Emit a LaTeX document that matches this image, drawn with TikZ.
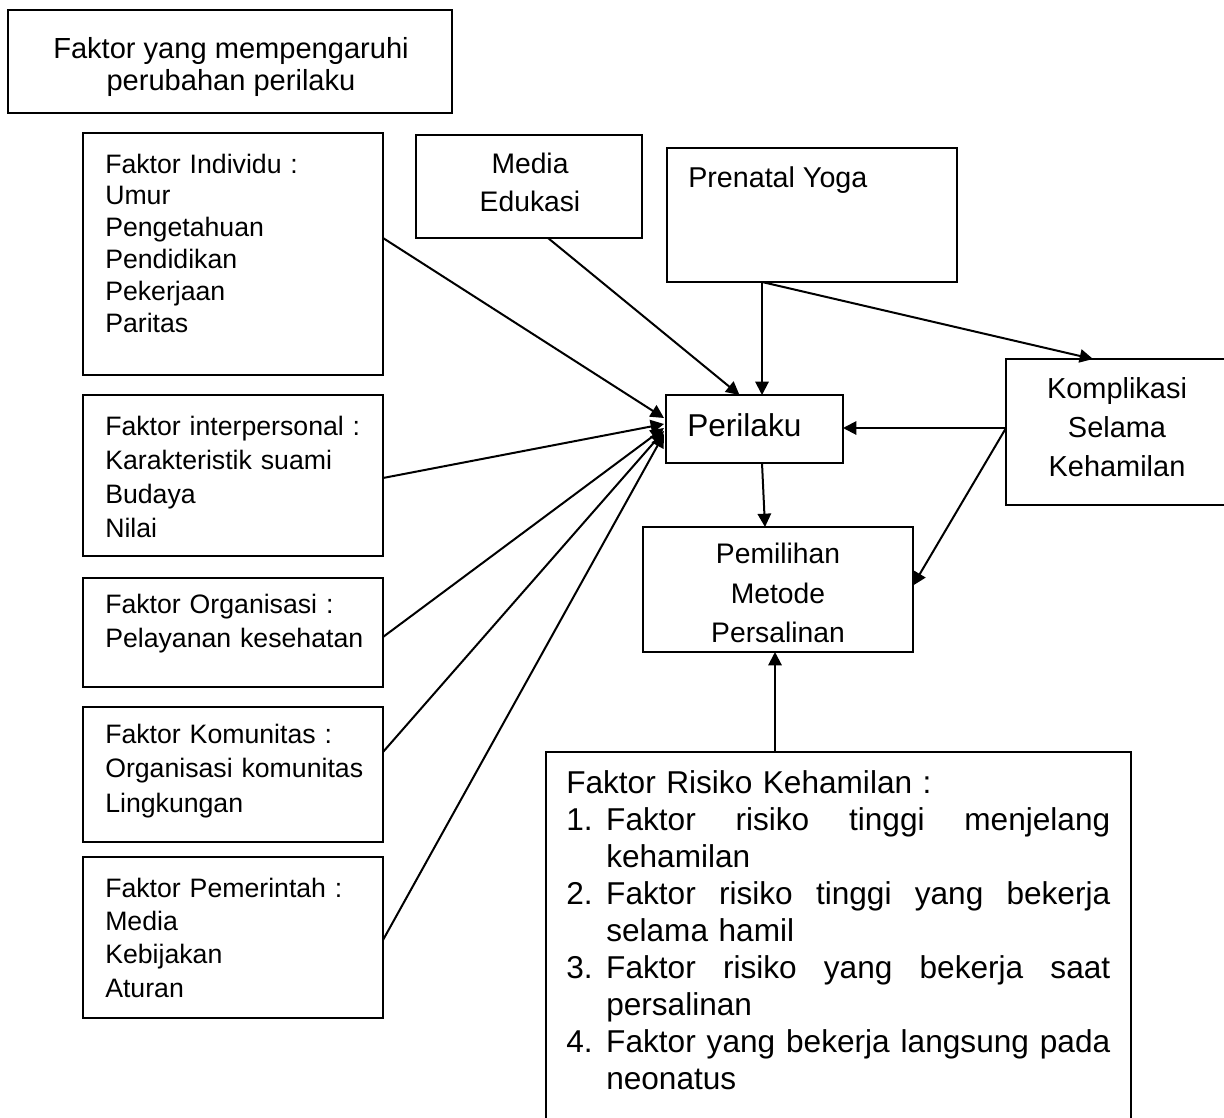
\documentclass[tikz,border=0pt]{standalone}
\usepackage{fontspec}
\setmainfont{Liberation Sans}
\usetikzlibrary{arrows.meta,calc}
\begin{document}
\begin{tikzpicture}[x=0.75pt,y=-0.75pt,
  box/.style={draw,line width=1.3pt,anchor=north west,inner sep=0pt,outer sep=0pt},
  arr/.style={line width=1.5pt,-{Triangle[length=10pt,width=10pt]}},
  ltxt/.style={anchor=base west,inner sep=0pt,text width=220pt,align=left},
  ctxt/.style={inner sep=0pt,align=center}]
\useasboundingbox (0,0) rectangle (1224,1117);
\fill[white] (0,0) rectangle (1224,1117);
% boxes
\node[box,minimum width=333pt,minimum height=77.25pt] (title) at (8,10) {};
\node[box,minimum width=225pt,minimum height=181.5pt] (ind) at (83,133) {};
\node[box,minimum width=225pt,minimum height=120.75pt] (itp) at (83,395) {};
\node[box,minimum width=225pt,minimum height=81.75pt] (org) at (83,578) {};
\node[box,minimum width=225pt,minimum height=101.25pt] (kmt) at (83,707) {};
\node[box,minimum width=225pt,minimum height=120.75pt] (pmr) at (83,857) {};
\node[box,minimum width=169.5pt,minimum height=77.25pt] (med) at (416,135) {};
\node[box,minimum width=217.5pt,minimum height=100.5pt] (pre) at (667,148) {};
\node[box,minimum width=132.75pt,minimum height=51pt] (per) at (666,395) {};
\node[box,minimum width=168pt,minimum height=109.5pt] (kom) at (1006,359) {};
\node[box,minimum width=202.5pt,minimum height=93.75pt] (pem) at (643,527) {};
\node[box,minimum width=438.75pt,minimum height=285pt] (risk) at (546,752) {};
% texts
\node[ctxt,font=\fontsize{21.8}{24}\selectfont] (ttitle) at (231,67) {Faktor yang mempengaruhi\\perubahan perilaku};
\node[ltxt,font=\fontsize{20}{23.85}\selectfont] (tind) at (105,173) {Faktor Individu :\\Umur\\Pengetahuan\\Pendidikan\\Pekerjaan\\Paritas};
\node[ltxt,font=\fontsize{20}{25.7}\selectfont] (titp) at (105,435) {Faktor interpersonal :\\Karakteristik suami\\Budaya\\Nilai};
\node[ltxt,font=\fontsize{20}{25.5}\selectfont] (torg) at (105,613) {Faktor Organisasi :\\Pelayanan kesehatan};
\node[ltxt,font=\fontsize{20}{25.9}\selectfont] (tkmt) at (105,743) {Faktor Komunitas :\\Organisasi komunitas\\Lingkungan};
\node[ltxt,font=\fontsize{20}{25}\selectfont] (tpmr) at (105,897) {Faktor Pemerintah :\\Media\\Kebijakan\\Aturan};
\node[ctxt,font=\fontsize{21.2}{29}\selectfont] (tmed) at (530,182.5) {Media\\Edukasi};
\node[anchor=base west,inner sep=0pt,font=\fontsize{21.5}{26}\selectfont] (tpre) at (688,187) {Prenatal Yoga};
\node[anchor=base west,inner sep=0pt,font=\fontsize{23.7}{28}\selectfont] (tper) at (687,436) {Perilaku};
\node[ctxt,font=\fontsize{21.7}{29}\selectfont] (tkom) at (1117,427) {Komplikasi\\Selama\\Kehamilan};
\node[ctxt,font=\fontsize{21.2}{29.6}\selectfont] (tpem) at (778,593) {Pemilihan\\Metode\\Persalinan};
\node[anchor=base west,inner sep=0pt,text width=408pt,align=left,font=\fontsize{23.7}{27.75}\selectfont] (trisk) at (566,793) {Faktor Risiko Kehamilan :\\
\makebox[30pt][l]{1.}\hbox to 378pt{Faktor\hfill risiko\hfill tinggi\hfill menjelang}\\
\hspace*{30pt}kehamilan\\
\makebox[30pt][l]{2.}\hbox to 378pt{Faktor\hfill risiko\hfill tinggi\hfill yang\hfill bekerja}\\
\hspace*{30pt}selama hamil\\
\makebox[30pt][l]{3.}\hbox to 378pt{Faktor\hfill risiko\hfill yang\hfill bekerja\hfill saat}\\
\hspace*{30pt}persalinan\\
\makebox[30pt][l]{4.}\hbox to 378pt{Faktor\hfill yang\hfill bekerja\hfill langsung\hfill pada}\\
\hspace*{30pt}neonatus};
% connectors
\draw[arr] ($(ind.east)+(0,-16)$) -- ($(per.west)+(-2,-11)$);
\draw[arr] ($(itp.east)+(0,2.5)$) -- ($(per.west)+(-2,-5)$);
\draw[arr] ($(org.east)+(0,4.5)$) -- ($(per.west)+(-2,-1)$);
\draw[arr] ($(kmt.east)+(0,-22.5)$) -- ($(per.west)+(-2,2)$);
\draw[arr] ($(pmr.east)+(0,2.5)$) -- ($(per.west)+(-2,5)$);
\draw[arr] ($(med.south)+(19,0)$) -- ($(per.north)+(-15,0)$);
\draw[arr] ($(pre.south)+(-50,0)$) -- ($(per.north)+(7.5,0)$);
\draw[arr] ($(pre.south)+(-50,0)$) -- ($(kom.north)+(-25,0)$);
\draw[arr] ($(kom.west)+(0,-4)$) -- ($(per.east)+(0,-1)$);
\draw[arr] ($(kom.west)+(0,-4)$) -- ($(pem.east)+(0,-4)$);
\draw[arr] ($(per.south)+(7.5,0)$) -- ($(pem.north)+(-13,0)$);
\draw[arr] ($(risk.north)+(-63.5,0)$) -- ($(pem.south)+(-3,0)$);
\end{tikzpicture}
\end{document}
